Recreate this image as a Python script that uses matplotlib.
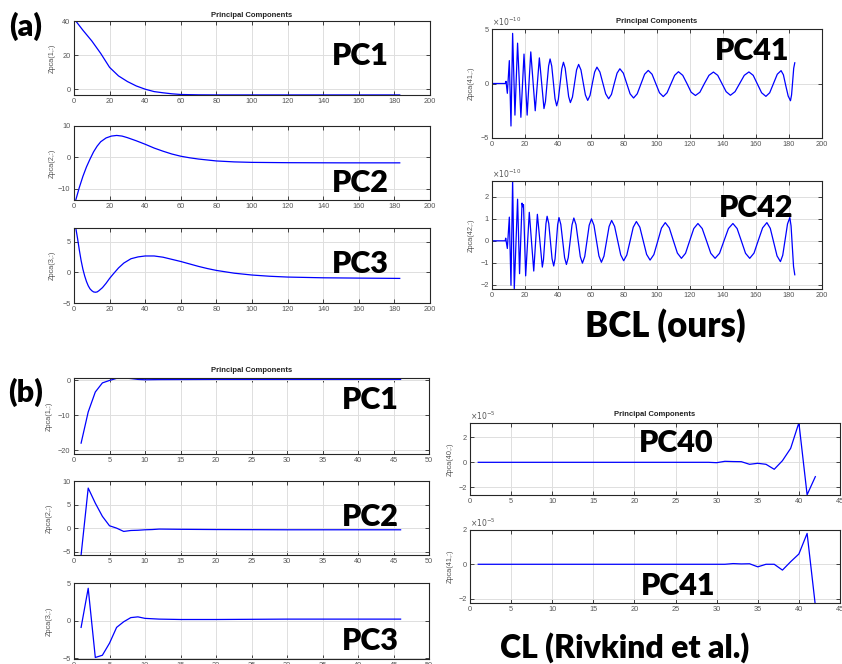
import matplotlib
matplotlib.use('Agg')
import matplotlib.pyplot as plt

W, H = 842, 664
plt.rcParams['font.family'] = ['Liberation Sans', 'DejaVu Sans']

# ---------------- (a) BCL (ours) ----------------
a_pc1_x = [1, 5, 10, 15, 20, 25, 30, 35, 40, 45, 50, 55, 60, 70, 80, 100, 140, 183]
a_pc1_y = [40, 34.6, 28.3, 21, 12.8, 7.8, 4.5, 1.9, 0, -1.4, -2.1, -2.7, -3.1, -3.3, -3.35, -3.35, -3.35, -3.35]

a_pc2_x = [1, 3, 5, 7, 9, 11, 13, 15, 18, 21, 24, 27, 30, 35, 40, 45, 50, 55, 60, 65, 70, 80, 90, 100, 120, 150, 183]
a_pc2_y = [-13.5, -9.5, -6, -3, -0.5, 1.8, 3.6, 5.0, 6.2, 6.8, 7.0, 6.8, 6.3, 5.3, 4.2, 3.0, 2.0, 1.1, 0.4, -0.1,
           -0.5, -1.1, -1.4, -1.55, -1.65, -1.7, -1.7]

a_pc3_x = [1, 2, 3, 4, 5, 6, 7, 8, 9, 10, 11, 12, 13, 14, 16, 18, 20, 22, 25, 28, 32, 36, 40, 45, 50, 55, 60,
           65, 70, 75, 80, 90, 100, 110, 120, 140, 160, 183]
a_pc3_y = [7.2, 5.5, 3.6, 1.9, 0.5, -0.6, -1.5, -2.2, -2.7, -3.0, -3.2, -3.25, -3.2, -3.0, -2.5, -1.8, -1.0, -0.3,
           0.7, 1.5, 2.2, 2.5, 2.65, 2.65, 2.45, 2.1, 1.75, 1.35, 0.95, 0.6, 0.3, -0.15, -0.45, -0.65, -0.78, -0.9,
           -0.95, -1.0]

# PC41, units of 1e-10
a_pc41_x = [1, 8, 8.5, 9.3, 10.5, 11.5, 12.5, 13.9, 15.5, 17.5, 19.4, 21.3, 23.5, 26.2, 28.7, 31.5,
            32.4, 33.35, 34.3, 35.2, 36.2, 37.2, 38.2, 39.2, 40.2, 41.25, 42.3, 43.3, 44.35, 45.4, 46.45, 47.5,
            48.75, 50, 51.25, 52.5, 53.9, 55.25, 56.6, 58, 59.4, 60.8, 62.2, 63.6, 65.4, 67.15, 68.9, 70.7,
            72.4, 74.1, 75.8, 77.5, 79.6, 81.65, 83.7, 85.8, 88, 90.25, 92.5, 94.7, 97, 99.25, 101.5, 103.8,
            106.1, 108.4, 110.7, 113, 115.6, 118.15, 120.7, 123.3, 126, 128.75, 131.5, 134.2, 136.8, 139.35,
            141.9, 144.5, 147.3, 150.1, 152.9, 155.7, 158.3, 160.85, 163.4, 166, 168.3, 170.6, 172.9, 175.2,
            176.6, 178.05, 179.5, 180.9, 181.55, 182.2, 182.85, 183.5]
a_pc41_y = [0, 0, 0.2, -0.9, 2.1, -3.9, 4.6, -2.9, 3.7, -3.1, 2.7, -2.9, 2.9, -2.5, 2.35, -2.3,
            -1.65, 0, 1.6, 2.25, 1.6, 0.1, -1.4, -2.05, -1.45, -0.05, 1.35, 1.95, 1.4, 0.1, -1.2, -1.75,
            -1.25, 0, 1.25, 1.75, 1.25, 0.1, -1.05, -1.55, -1.1, 0, 1.05, 1.5, 1.05, 0.05, -0.95, -1.4,
            -1.0, 0, 0.95, 1.35, 0.95, 0, -0.95, -1.33, -0.95, -0.05, 0.85, 1.2, 0.85, 0, -0.85, -1.2,
            -0.85, -0.05, 0.75, 1.08, 0.75, 0, -0.8, -1.1, -0.8, 0, 0.75, 1.05, 0.75, 0,
            -0.75, -1.08, -0.75, 0, 0.75, 1.06, 0.75, -0.05, -0.85, -1.18, -0.85, 0, 0.85, 1.18,
            0.8, -0.2, -1.15, -1.58, -1.05, 0.15, 1.4, 1.9]

# PC42, units of 1e-10
a_pc42_x = [1, 8, 8.3, 9.3, 10.5, 11.5, 12.5, 13.5, 15.5, 16.7, 18.2, 18.7, 19.1, 20.4, 22.6, 25.3, 27.5, 30.5,
            31.2, 31.95, 32.7, 33.4, 34.4, 35.4, 36.4, 37.4, 38.2, 39, 39.8, 40.6, 41.7, 42.85, 44, 45.1,
            46.2, 47.35, 48.5, 49.6, 50.9, 52.2, 53.5, 54.8, 56.2, 57.55, 58.9, 60.3, 61.8, 63.3, 64.8, 66.3,
            67.85, 69.4, 70.95, 72.5, 74.3, 76.15, 78, 79.8, 81.7, 83.65, 85.6, 87.5, 89.6, 91.65, 93.7, 95.8,
            98.1, 100.4, 102.7, 105, 107.45, 109.9, 112.35, 114.8, 117.3, 119.8, 122.3, 124.8, 127.4, 130,
            132.6, 135.2, 137.9, 140.6, 143.3, 146, 148.55, 151.1, 153.65, 156.2, 158.8, 161.4, 164, 166.6,
            168.65, 170.7, 172.75, 174.8, 176.2, 177.65, 179.1, 180.5, 181.25, 182, 182.75, 183.5]
a_pc42_y = [0, 0, 0.12, -0.35, 1.08, -2.03, 2.8, -2.2, 1.9, -1.5, 1.72, 1.55, 1.65, -1.6, 1.3, -1.38, 1.21, -1.2,
            -0.86, -0.04, 0.78, 1.12, 0.79, -0.02, -0.82, -1.15, -0.83, -0.05, 0.74, 1.06, 0.75, -0.01, -0.77, -1.08,
            -0.77, -0.02, 0.73, 1.04, 0.74, 0.01, -0.72, -1.02, -0.72, -0.01, 0.71, 1.0, 0.71, 0.01, -0.69, -0.98,
            -0.7, -0.03, 0.65, 0.93, 0.66, 0.01, -0.64, -0.91, -0.65, -0.02, 0.62, 0.88, 0.62, 0, -0.62, -0.88,
            -0.63, -0.03, 0.58, 0.83, 0.59, 0.01, -0.56, -0.8, -0.57, 0, 0.56, 0.79, 0.56, 0,
            -0.57, -0.8, -0.57, 0, 0.56, 0.79, 0.56, 0, -0.57, -0.8, -0.56, 0.02, 0.59, 0.83,
            0.57, -0.06, -0.69, -0.95, -0.66, 0.05, 0.77, 1.06, 0.68, -0.25, -1.17, -1.55]

# ---------------- (b) CL (Rivkind et al.) ----------------
b_pc1_x = [1, 2, 3, 4, 5, 6, 7, 8, 9, 10, 12, 20, 30, 46]
b_pc1_y = [-17.9, -9, -3.3, -0.7, 0, 0.6, 0.7, 0.55, 0.3, 0.2, 0.25, 0.3, 0.3, 0.3]

b_pc2_x = [1, 2, 3, 4, 5, 6, 7, 8, 9, 10, 11, 12, 15, 20, 30, 46]
b_pc2_y = [-5.7, 8.5, 5.3, 2.5, 0.5, 0, -0.7, -0.5, -0.45, -0.35, -0.3, -0.2, -0.25, -0.3, -0.35, -0.35]

b_pc3_x = [1, 2, 3, 4, 5, 6, 7, 8, 9, 10, 11, 12, 15, 20, 30, 46]
b_pc3_y = [-0.9, 4.3, -4.9, -4.6, -3.0, -0.9, -0.15, 0.4, 0.5, 0.3, 0.25, 0.2, 0.15, 0.15, 0.2, 0.2]

# PC40 / PC41, units of 1e-5
b_pc40_x = [1, 20, 25, 29, 30, 31, 32, 33, 34, 35, 36, 37, 38, 39, 40, 41, 42]
b_pc40_y = [0, 0, 0, 0, -0.03, 0.08, 0.06, 0.05, -0.16, -0.08, -0.16, -0.56, 0.13, 1.12, 3.17, -2.6, -1.15]

b_pc41_x = [1, 20, 25, 31, 32, 33, 34, 35, 36, 37, 38, 39, 40, 41, 42]
b_pc41_y = [0, 0, 0, 0, 0.04, 0.02, 0.03, -0.15, 0.0, 0.0, -0.34, 0.15, 0.6, 1.8, -2.4]


def make_ax(box, xlim, xticks, ylim, yticks, ylabel, lab_x):
    x0, y0, x1, y1 = box
    ax = fig.add_axes([x0 / W, 1 - y1 / H, (x1 - x0) / W, (y1 - y0) / H])
    ax.set_xlim(xlim)
    ax.set_ylim(ylim)
    ax.set_xticks(xticks)
    ax.set_yticks(yticks)
    ax.grid(True, color='#dedede', lw=0.7)
    ax.set_axisbelow(True)
    ax.tick_params(direction='in', top=True, right=True, length=3, width=0.6,
                   labelsize=5.3, color='#262626', labelcolor='#555555', pad=2.5)
    for s in ax.spines.values():
        s.set_color('#262626')
        s.set_linewidth(0.8)
    ax.set_ylabel(ylabel, fontsize=5.3, color='#555555')
    ax.yaxis.set_label_coords((lab_x - x0) / (x1 - x0), 0.5)
    return ax


def big(x, y, s, size):
    fig.text(x / W, 1 - y / H, s, ha='center', va='baseline', fontsize=size,
             fontweight='heavy', family=['Lato', 'DejaVu Sans'])


fig = plt.figure(figsize=(W / 100, H / 100), dpi=100)

xa = list(range(0, 201, 20))
xb = list(range(0, 51, 5))
xc = list(range(0, 46, 5))

ax = make_ax((74, 21, 430, 95), (0, 200), xa, (-3.4, 40), [0, 20, 40], 'Zpca(1,:)', 56)
ax.plot(a_pc1_x, a_pc1_y, color='blue', lw=0.9)
ax.set_title('Principal Components', fontsize=5.5, fontweight='bold', pad=3, color='#222222')

ax = make_ax((74, 126, 430, 200), (0, 200), xa, (-13.5, 10), [-10, 0, 10], 'Zpca(2,:)', 56)
ax.plot(a_pc2_x, a_pc2_y, color='blue', lw=0.9)

ax = make_ax((74, 228, 430, 303), (0, 200), xa, (-5, 7.2), [-5, 0, 5], 'Zpca(3,:)', 56)
ax.plot(a_pc3_x, a_pc3_y, color='blue', lw=0.9)

ax = make_ax((492, 29, 822, 138), (0, 200), xa, (-5, 5), [-5, 0, 5], 'Zpca(41,:)', 475)
ax.plot(a_pc41_x, a_pc41_y, color='blue', lw=0.9)
ax.set_title('Principal Components', fontsize=5.5, fontweight='bold', pad=4, color='#222222')
ax.text(0.0, 1.01, r'$\times10^{-10}$', transform=ax.transAxes, fontsize=5.5, color='#555555', va='bottom')

ax = make_ax((492, 181, 822, 289), (0, 200), xa, (-2.2, 2.73), [-2, -1, 0, 1, 2], 'Zpca(42,:)', 475)
ax.plot(a_pc42_x, a_pc42_y, color='blue', lw=0.9)
ax.text(0.0, 1.01, r'$\times10^{-10}$', transform=ax.transAxes, fontsize=5.5, color='#555555', va='bottom')

ax = make_ax((74, 378, 429, 454), (0, 50), xb, (-21, 0.7), [-20, -10, 0], 'Zpca(1,:)', 53)
ax.plot(b_pc1_x, b_pc1_y, color='blue', lw=0.9)
ax.set_title('Principal Components', fontsize=5.5, fontweight='bold', pad=4, color='#222222')

ax = make_ax((74, 481, 429, 555), (0, 50), xb, (-5.7, 10), [-5, 0, 5, 10], 'Zpca(2,:)', 53)
ax.plot(b_pc2_x, b_pc2_y, color='blue', lw=0.9)

ax = make_ax((74, 583, 429, 659), (0, 50), xb, (-5.1, 5), [-5, 0, 5], 'Zpca(3,:)', 53)
ax.plot(b_pc3_x, b_pc3_y, color='blue', lw=0.9)

ax = make_ax((470, 423, 840, 495), (0, 45), xc, (-2.62, 3.15), [-2, 0, 2], 'Zpca(40,:)', 454)
ax.plot(b_pc40_x, b_pc40_y, color='blue', lw=0.9)
ax.set_title('Principal Components', fontsize=5.5, fontweight='bold', pad=5, color='#222222')
ax.text(0.0, 1.01, r'$\times10^{-5}$', transform=ax.transAxes, fontsize=5.5, color='#555555', va='bottom')

ax = make_ax((470, 530, 840, 603), (0, 45), xc, (-2.26, 1.88), [-2, 0, 2], 'Zpca(41,:)', 454)
ax.plot(b_pc41_x, b_pc41_y, color='blue', lw=0.9)
ax.text(0.0, 1.01, r'$\times10^{-5}$', transform=ax.transAxes, fontsize=5.5, color='#555555', va='bottom')

big(26, 36, '(a)', 22)
big(360, 65, 'PC1', 22)
big(360, 192, 'PC2', 22)
big(360, 273, 'PC3', 22)
big(752, 60, 'PC41', 22)
big(756, 217, 'PC42', 22)
big(665, 337, 'BCL (ours)', 25)
big(26, 402, '(b)', 22)
big(370, 409, 'PC1', 22)
big(370, 526, 'PC2', 22)
big(370, 650, 'PC3', 22)
big(676, 452, 'PC40', 22)
big(678, 595, 'PC41', 22)
big(625, 658, 'CL (Rivkind et al.)', 23)

fig.savefig('out.png', dpi=100, facecolor='white')
